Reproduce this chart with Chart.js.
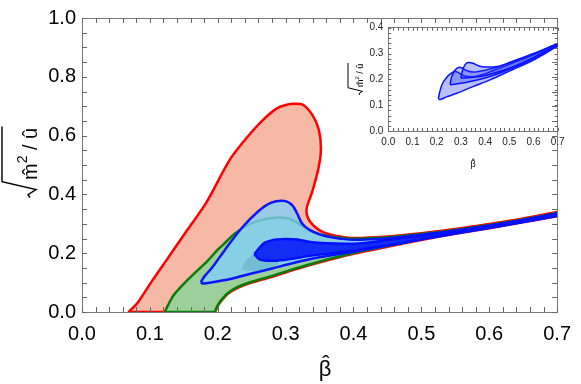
<!DOCTYPE html>
<html lang="en">
<head>
<meta charset="UTF-8">
<title>Allowed region</title>
<script src="https://cdn.jsdelivr.net/npm/chart.js"></script>
<style>
  body { margin: 0; background: #fff; }
  #wrap { position: relative; width: 581px; height: 384px; }
  #mainChart { position: absolute; left: 0; top: 0; }
  #insetChart { position: absolute; left: 340px; top: 5px; }
</style>
</head>
<body>
<div id="wrap">
  <canvas id="mainChart" width="581" height="384"></canvas>
  <canvas id="insetChart" width="235" height="175"></canvas>
</div>
<script>
// tick labels
const xTickLabels = ['0.0', '0.1', '0.2', '0.3', '0.4', '0.5', '0.6', '0.7'];
const yTickLabels = ['0.0', '0.2', '0.4', '0.6', '0.8', '1.0'];
const insetXTickLabels = ['0.0', '0.1', '0.2', '0.3', '0.4', '0.5', '0.6', '0.7'];
const insetYTickLabels = ['0.0', '0.1', '0.2', '0.3', '0.4'];

// red region outline (beta, sqrt(m^2)/u)
const redX = [0.068, 0.074, 0.083, 0.103, 0.127, 0.153, 0.183, 0.218, 0.242, 0.266, 0.286, 0.300, 0.314, 0.326, 0.340, 0.349, 0.352, 0.348, 0.339, 0.331, 0.333, 0.343, 0.355, 0.375, 0.400, 0.450, 0.500, 0.550, 0.600, 0.650, 0.700, 0.720,
              0.720, 0.700, 0.650, 0.600, 0.550, 0.500, 0.450, 0.400, 0.370, 0.340, 0.310, 0.280, 0.250, 0.230, 0.215, 0.206, 0.200, 0.197, 0.195, 0.068];
const redY = [0.000, 0.012, 0.035, 0.105, 0.185, 0.272, 0.372, 0.519, 0.591, 0.652, 0.691, 0.704, 0.708, 0.704, 0.668, 0.619, 0.552, 0.485, 0.408, 0.352, 0.319, 0.290, 0.272, 0.259, 0.252, 0.257, 0.268, 0.282, 0.299, 0.318, 0.340, 0.348,
              0.334, 0.326, 0.305, 0.285, 0.266, 0.245, 0.222, 0.198, 0.181, 0.162, 0.142, 0.120, 0.100, 0.083, 0.062, 0.040, 0.020, 0.005, 0.000, 0.000];

// green region outline
const greenX = [0.122, 0.126, 0.136, 0.156, 0.185, 0.200, 0.212, 0.225, 0.250, 0.278, 0.303, 0.317, 0.328, 0.338, 0.350, 0.370, 0.400, 0.450, 0.500, 0.550, 0.600, 0.650, 0.700, 0.720,
                0.720, 0.700, 0.650, 0.600, 0.550, 0.500, 0.450, 0.400, 0.370, 0.340, 0.310, 0.280, 0.250, 0.230, 0.215, 0.206, 0.200, 0.197, 0.195, 0.122];
const greenY = [0.000, 0.020, 0.060, 0.110, 0.174, 0.212, 0.238, 0.266, 0.302, 0.319, 0.319, 0.304, 0.288, 0.274, 0.265, 0.255, 0.249, 0.254, 0.265, 0.279, 0.296, 0.315, 0.337, 0.345,
                0.337, 0.329, 0.308, 0.288, 0.269, 0.248, 0.225, 0.201, 0.184, 0.165, 0.145, 0.123, 0.103, 0.086, 0.065, 0.043, 0.023, 0.008, 0.000, 0.000];

// light blue region outline
const lightBlueX = [0.175, 0.180, 0.192, 0.211, 0.235, 0.259, 0.278, 0.298, 0.310, 0.317, 0.324, 0.334, 0.350, 0.370, 0.400, 0.450, 0.500, 0.550, 0.600, 0.650, 0.700, 0.720,
                    0.720, 0.700, 0.650, 0.600, 0.550, 0.500, 0.450, 0.400, 0.350, 0.310, 0.280, 0.250, 0.220, 0.190, 0.178, 0.175];
const lightBlueY = [0.101, 0.120, 0.152, 0.213, 0.285, 0.341, 0.371, 0.378, 0.363, 0.335, 0.302, 0.281, 0.264, 0.253, 0.246, 0.251, 0.263, 0.277, 0.294, 0.313, 0.335, 0.344,
                    0.335, 0.327, 0.306, 0.286, 0.267, 0.247, 0.226, 0.205, 0.186, 0.166, 0.148, 0.131, 0.113, 0.100, 0.097, 0.101];

// faint shadow under the dark blue tip
const shadeX = [0.235, 0.240, 0.254, 0.270, 0.290, 0.283, 0.259, 0.240, 0.235];
const shadeY = [0.147, 0.169, 0.198, 0.185, 0.170, 0.152, 0.141, 0.141, 0.147];

// dark blue region outline
const darkBlueX = [0.254, 0.269, 0.288, 0.317, 0.336, 0.387, 0.416, 0.450, 0.500, 0.550, 0.600, 0.650, 0.700, 0.720,
                   0.720, 0.700, 0.650, 0.600, 0.550, 0.500, 0.450, 0.416, 0.387, 0.336, 0.307, 0.283, 0.262, 0.254];
const darkBlueY = [0.197, 0.235, 0.247, 0.247, 0.238, 0.232, 0.235, 0.245, 0.260, 0.275, 0.293, 0.312, 0.334, 0.342,
                   0.336, 0.328, 0.307, 0.287, 0.268, 0.248, 0.227, 0.215, 0.205, 0.191, 0.180, 0.174, 0.178, 0.197];

// inset regions
const insetAX = [0.207, 0.212, 0.222, 0.240, 0.260, 0.277, 0.290, 0.310, 0.350, 0.400, 0.450, 0.500, 0.600, 0.710,
                 0.700, 0.600, 0.500, 0.420, 0.350, 0.283, 0.240, 0.215, 0.207];
const insetAY = [0.124, 0.150, 0.180, 0.206, 0.224, 0.230, 0.226, 0.215, 0.210, 0.222, 0.240, 0.258, 0.295, 0.342,
                 0.330, 0.275, 0.232, 0.198, 0.172, 0.146, 0.132, 0.122, 0.124];
const insetBX = [0.255, 0.262, 0.275, 0.290, 0.305, 0.320, 0.350, 0.400, 0.500, 0.600, 0.710,
                 0.700, 0.600, 0.500, 0.400, 0.330, 0.280, 0.260, 0.255];
const insetBY = [0.180, 0.210, 0.235, 0.246, 0.244, 0.235, 0.228, 0.235, 0.262, 0.298, 0.342,
                 0.332, 0.280, 0.238, 0.205, 0.190, 0.182, 0.179, 0.180];
const insetCX = [0.300, 0.307, 0.318, 0.330, 0.350, 0.375, 0.400, 0.450, 0.500, 0.600, 0.710,
                 0.700, 0.600, 0.500, 0.400, 0.350, 0.310, 0.300];
const insetCY = [0.205, 0.235, 0.258, 0.265, 0.262, 0.252, 0.248, 0.250, 0.265, 0.300, 0.342,
                 0.335, 0.285, 0.243, 0.215, 0.208, 0.205, 0.205];

const FONT = '"Liberation Sans", Arial, sans-serif';

function pts(xs, ys) {
    return xs.map((x, i) => ({x: x, y: ys[i]}));
}

function region(xs, ys, fill, border, width, order) {
    return {
        data: pts(xs, ys),
        showLine: true,
        fill: 'shape',
        backgroundColor: fill,
        borderColor: border,
        borderWidth: width,
        pointRadius: 0,
        tension: 0.3,
        order: order
    };
}

function labelFor(list) {
    return function (v) {
        const s = Number(v).toFixed(1);
        return (Math.abs(v - parseFloat(s)) < 1e-6 && list.includes(s)) ? s : '';
    };
}

function frameAxis(pos, min, max, step, size, extra) {
    const horiz = pos === 'top' || pos === 'bottom';
    return Object.assign({
        type: 'linear',
        position: pos,
        min: min,
        max: max,
        border: {display: true, color: '#7a7a7a', width: 1},
        grid: {display: false, drawTicks: false},
        ticks: {display: false, stepSize: step, autoSkip: false, maxTicksLimit: 200},
        afterFit: function (scale) {
            if (horiz) scale.height = size; else scale.width = size;
        }
    }, extra || {});
}

// frame decoration: inward tick marks on all sides, then the axis titles
// (beta-hat below, sqrt( m-hat^2 / u-hat ) rotated on the left)
function frameDecor(o) {
    return {
        id: 'frameDecor',
        afterDraw(chart) {
            const ctx = chart.ctx;
            const a = chart.chartArea;

            // tick marks, positions from each scale
            ctx.save();
            ctx.setLineDash([]);
            ctx.globalAlpha = 1;
            ctx.strokeStyle = o.tickColor;
            ctx.lineWidth = 1;
            ['x', 'x2', 'y', 'y2'].forEach(key => {
                const scale = chart.scales[key];
                if (!scale) return;
                const pos = scale.options.position;
                const step = scale.options.ticks.stepSize;
                const n = Math.round((scale.max - scale.min) / step);
                for (let i = 0; i <= n; i++) {
                    const p = Math.round(scale.getPixelForValue(scale.min + i * step)) + 0.5;
                    ctx.beginPath();
                    if (pos === 'bottom') { ctx.moveTo(p, a.bottom); ctx.lineTo(p, a.bottom - o.tickLen); }
                    else if (pos === 'top') { ctx.moveTo(p, a.top); ctx.lineTo(p, a.top + o.tickLen); }
                    else if (pos === 'left') { ctx.moveTo(a.left, p); ctx.lineTo(a.left + o.tickLen, p); }
                    else { ctx.moveTo(a.right, p); ctx.lineTo(a.right - o.tickLen, p); }
                    ctx.stroke();
                }
            });
            ctx.restore();

            ctx.save();
            ctx.fillStyle = '#000';
            ctx.strokeStyle = '#000';
            ctx.textBaseline = 'alphabetic';

            // x title
            const xs = o.xSize;
            ctx.font = xs + 'px ' + FONT;
            ctx.textAlign = 'center';
            ctx.fillText('\u03b2', o.xx, o.xy);
            ctx.fillText('\u02c6', o.xx + xs * 0.04, o.xy - xs * 0.22);

            // y title
            const s = o.ySize;
            const mainFont = s + 'px ' + FONT;
            const supFont = Math.round(s * 0.7) + 'px ' + FONT;
            ctx.translate(o.yx, o.yy);
            ctx.rotate(-Math.PI / 2);
            ctx.textAlign = 'left';
            ctx.font = mainFont;
            const wM = ctx.measureText('m').width;
            const wRest = ctx.measureText(' / \u00fb').width;
            ctx.font = supFont;
            const w2 = ctx.measureText('2').width;
            const radW = s * 0.8;
            const total = radW + wM + w2 + wRest + s * 0.15;
            let u = -total / 2;
            ctx.lineWidth = Math.max(1, s / 14);
            ctx.beginPath();
            ctx.moveTo(u, o.base - s * 0.35);
            ctx.lineTo(u + s * 0.15, o.base - s * 0.45);
            ctx.lineTo(u + s * 0.4, o.base - s * 0.05);
            ctx.lineTo(u + radW, o.top);
            ctx.lineTo(u + total, o.top);
            ctx.stroke();
            u += radW + s * 0.08;
            ctx.font = mainFont;
            ctx.fillText('m', u, o.base);
            ctx.textAlign = 'center';
            ctx.fillText('\u02c6', u + wM / 2, o.base);
            ctx.textAlign = 'left';
            u += wM;
            ctx.font = supFont;
            ctx.fillText('2', u, o.base - s * 0.5);
            u += w2;
            ctx.font = mainFont;
            ctx.fillText(' / \u00fb', u, o.base);
            ctx.restore();
        }
    };
}

// main chart
new Chart(document.getElementById('mainChart').getContext('2d'), {
    type: 'scatter',
    data: {
        datasets: [
            region(redX, redY, '#f5b9a6', '#ff0000', 2.5, 5),
            region(greenX, greenY, '#9dcf9b', '#087d08', 2.5, 4),
            region(lightBlueX, lightBlueY, 'rgba(128,206,250,0.78)', '#0a14ff', 2.5, 3),
            region(shadeX, shadeY, 'rgba(40,130,150,0.22)', 'rgba(0,0,0,0)', 0, 2),
            region(darkBlueX, darkBlueY, 'rgba(12,32,246,0.93)', '#0010ff', 2.5, 1)
        ]
    },
    options: {
        responsive: false,
        animation: false,
        events: [],
        layout: {padding: 0},
        plugins: {legend: {display: false}, tooltip: {enabled: false}},
        scales: {
            x: frameAxis('bottom', 0, 0.7, 0.02, 72, {
                ticks: {display: true, stepSize: 0.02, autoSkip: false, maxTicksLimit: 200, maxRotation: 0,
                        padding: 10, color: '#000', font: {family: FONT, size: 20},
                        callback: labelFor(xTickLabels)}
            }),
            x2: frameAxis('top', 0, 0.7, 0.02, 13),
            y: frameAxis('left', 0, 1.0, 0.05, 82, {
                ticks: {display: true, stepSize: 0.05, autoSkip: false, maxTicksLimit: 200,
                        padding: 6, color: '#000', font: {family: FONT, size: 20},
                        callback: labelFor(yTickLabels)}
            }),
            y2: frameAxis('right', 0, 1.0, 0.05, 14)
        }
    },
    plugins: [frameDecor({tickLen: 5, tickColor: '#666',
                          xx: 325, xy: 376, xSize: 22, yx: 20, yy: 162, ySize: 20, base: 17, top: -18})]
});

// inset chart
new Chart(document.getElementById('insetChart').getContext('2d'), {
    type: 'scatter',
    data: {
        datasets: [
            region(insetAX, insetAY, 'rgba(40,60,255,0.32)', '#0a14ff', 1.5, 3),
            region(insetBX, insetBY, 'rgba(40,60,255,0.32)', '#0a14ff', 1.5, 2),
            region(insetCX, insetCY, 'rgba(40,60,255,0.32)', '#0a14ff', 1.5, 1)
        ]
    },
    options: {
        responsive: false,
        animation: false,
        events: [],
        layout: {padding: 0},
        plugins: {legend: {display: false}, tooltip: {enabled: false}},
        scales: {
            x: frameAxis('bottom', 0, 0.7, 0.02, 49, {
                ticks: {display: true, stepSize: 0.02, autoSkip: false, maxTicksLimit: 200, maxRotation: 0,
                        padding: 5, color: '#222', font: {family: FONT, size: 10},
                        callback: labelFor(insetXTickLabels)}
            }),
            x2: frameAxis('top', 0, 0.7, 0.02, 22.7),
            y: frameAxis('left', 0, 0.4, 0.02, 48.3, {
                ticks: {display: true, stepSize: 0.02, autoSkip: false, maxTicksLimit: 200,
                        padding: 5, color: '#222', font: {family: FONT, size: 10},
                        callback: labelFor(insetYTickLabels)}
            }),
            y2: frameAxis('right', 0, 0.4, 0.02, 17.3)
        }
    },
    plugins: [frameDecor({tickLen: 3, tickColor: '#666',
                          xx: 133, xy: 162, xSize: 9, yx: 16, yy: 74, ySize: 9, base: 7, top: -8})]
});
</script>
</body>
</html>
